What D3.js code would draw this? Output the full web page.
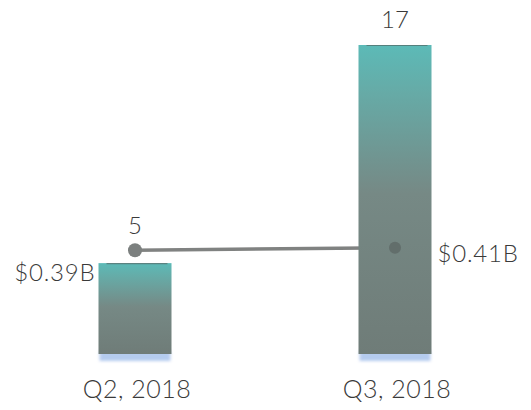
<!DOCTYPE html>
<html>
<head>
<meta charset="utf-8">
<script src="https://cdn.jsdelivr.net/npm/d3@7"></script>
<style>
  html, body { margin: 0; padding: 0; background: #fff; }
  svg { display: block; }
  text { font-family: Lato, "Open Sans", sans-serif; font-weight: 300; fill: #3a3a3a; }
</style>
</head>
<body>
<svg id="chart" width="531" height="410"></svg>
<script>
// Quarterly deal count (bars) and total value in $B (line)
const quarters = ["Q2, 2018", "Q3, 2018"];
const dealCounts = [5, 17];
const dealValues = [0.39, 0.41];
const valueLabels = ["$0.39B", "$0.41B"];

const svg = d3.select("#chart");
const baseY = 354;

const x = d3.scalePoint().domain(quarters).range([135, 395]);
const yCount = d3.scaleLinear().domain([0, 17]).range([baseY, 45]);
const yValue = d3.scaleLinear().domain([0, 1]).range([299, 174]);
const barW = 73;

const defs = svg.append("defs");
const grad = defs.append("linearGradient")
  .attr("id", "barFill").attr("x1", 0).attr("y1", 0).attr("x2", 0).attr("y2", 1);
grad.append("stop").attr("offset", "0%").attr("stop-color", "#5cbab7");
grad.append("stop").attr("offset", "15%").attr("stop-color", "#66aba7");
grad.append("stop").attr("offset", "48%").attr("stop-color", "#768985");
grad.append("stop").attr("offset", "100%").attr("stop-color", "#6f7c78");

defs.append("filter").attr("id", "fuzz")
  .attr("x", "-20%").attr("y", "-100%").attr("width", "140%").attr("height", "300%")
  .append("feGaussianBlur").attr("stdDeviation", 1.6);

const data = quarters.map((q, i) => ({
  q, count: dealCounts[i], value: dealValues[i], label: valueLabels[i]
}));

// Value line, drawn first so the taller bar covers its end
const line = d3.line().x(d => x(d.q)).y(d => yValue(d.value));
svg.append("path").datum(data)
  .attr("d", line)
  .attr("fill", "none")
  .attr("stroke", "#808281")
  .attr("stroke-width", 3.5);

// Pale blue smudge under each bar
svg.append("g").selectAll("rect").data(data).join("rect")
  .attr("x", d => x(d.q) - barW / 2 + 1)
  .attr("y", baseY - 3)
  .attr("width", barW - 2)
  .attr("height", 10)
  .attr("fill", "#a8c2ec")
  .attr("opacity", 0.85)
  .attr("filter", "url(#fuzz)");

// Bars
svg.append("g").selectAll("rect").data(data).join("rect")
  .attr("x", d => x(d.q) - barW / 2)
  .attr("y", d => yCount(d.count))
  .attr("width", barW)
  .attr("height", d => baseY - yCount(d.count))
  .attr("fill", "url(#barFill)");

// Thin dark edge along the bar tops
svg.append("g").selectAll("line").data(data).join("line")
  .attr("x1", d => x(d.q) - barW / 2 + 8)
  .attr("x2", d => x(d.q) + barW / 2 - 4)
  .attr("y1", d => yCount(d.count) + 0.5)
  .attr("y2", d => yCount(d.count) + 0.5)
  .attr("stroke", "#4f5a58")
  .attr("stroke-width", 1.2)
  .attr("opacity", 0.6);

svg.append("g").selectAll("circle").data(data).join("circle")
  .attr("cx", d => x(d.q))
  .attr("cy", d => yValue(d.value))
  .attr("r", (d, i) => i === 0 ? 7 : 6)
  .attr("fill", (d, i) => i === 0 ? "#7c807f" : "#626e6b");

// Count labels
svg.append("g").selectAll("text").data(data).join("text")
  .attr("x", d => x(d.q))
  .attr("y", (d, i) => i === 0 ? yValue(d.value) - 16 : yCount(d.count) - 17)
  .attr("text-anchor", "middle")
  .attr("font-size", 24)
  .text(d => d.count);

// Value labels
svg.append("g").selectAll("text").data(data).join("text")
  .attr("x", (d, i) => i === 0 ? x(d.q) - barW / 2 - 3 : x(d.q) + barW / 2 + 6)
  .attr("y", (d, i) => i === 0 ? 281 : 262)
  .attr("text-anchor", (d, i) => i === 0 ? "end" : "start")
  .attr("font-size", 24)
  .attr("letter-spacing", 0.8)
  .text(d => d.label);

// Category labels
svg.append("g").selectAll("text").data(data).join("text")
  .attr("x", d => x(d.q) + 2)
  .attr("y", 398)
  .attr("text-anchor", "middle")
  .attr("font-size", 25)
  .attr("letter-spacing", 0.5)
  .text(d => d.q);
</script>
</body>
</html>
